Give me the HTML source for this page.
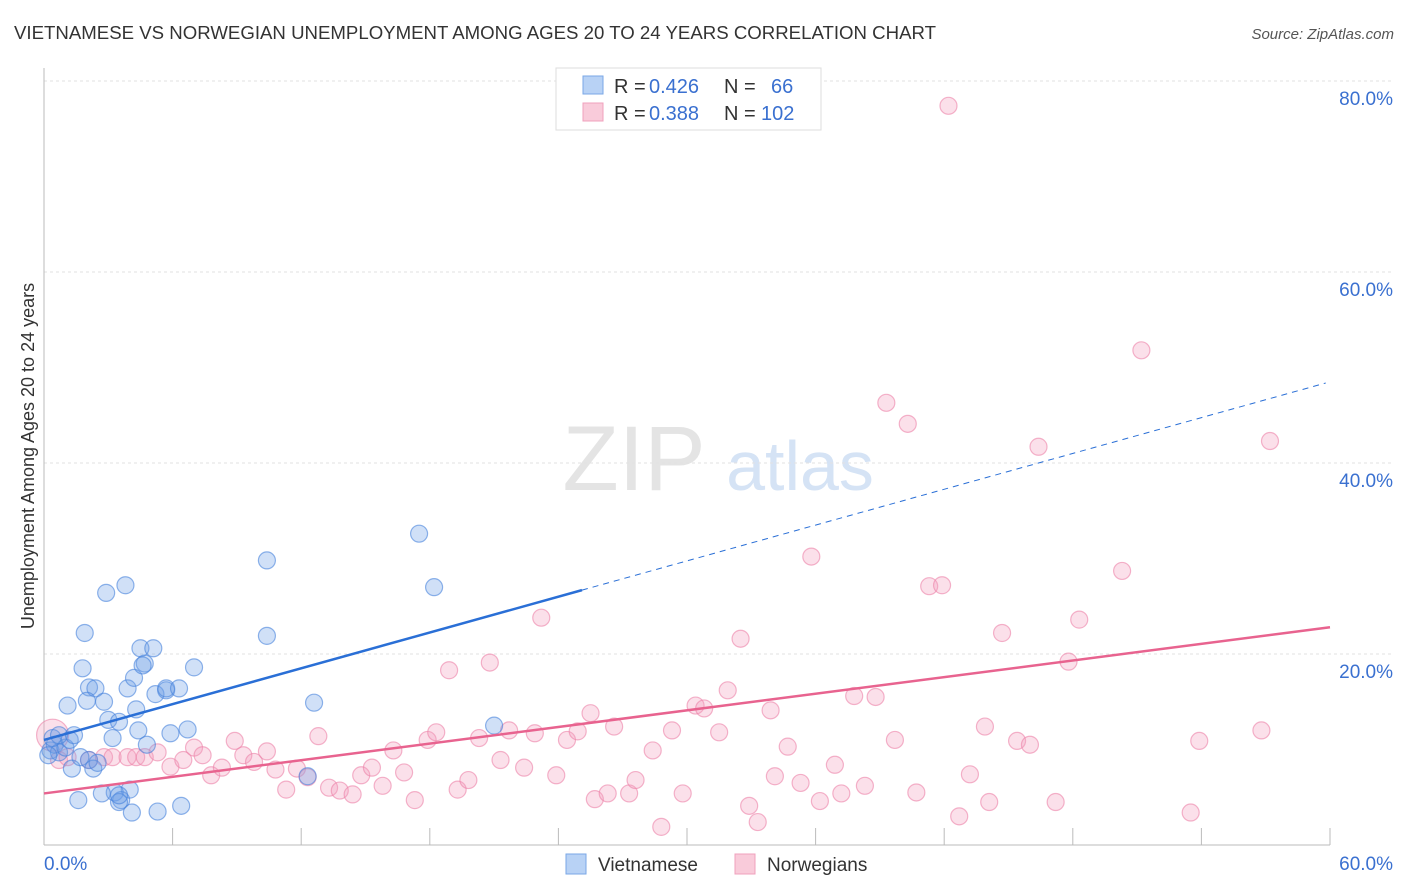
<!DOCTYPE html>
<html><head><meta charset="utf-8"><style>
body{margin:0;background:#fff;font-family:"Liberation Sans",sans-serif;}
#wrap{position:relative;width:1406px;height:892px;overflow:hidden;}
svg text{font-family:"Liberation Sans",sans-serif;}
</style></head><body>
<div id="wrap">
<svg id="svg" width="1406" height="892">
<text x="14" y="39" font-size="18" fill="#333" textLength="922" lengthAdjust="spacingAndGlyphs">VIETNAMESE VS NORWEGIAN UNEMPLOYMENT AMONG AGES 20 TO 24 YEARS CORRELATION CHART</text>
<text x="1394" y="39" font-size="15" fill="#555" font-style="italic" text-anchor="end">Source: ZipAtlas.com</text>
<text x="634" y="490" font-size="92" fill="#e4e4e4" font-family="Liberation Serif" text-anchor="middle">ZIP</text>
<text x="800" y="490" font-size="70" fill="#d5e3f5" text-anchor="middle">atlas</text>
<text transform="translate(34,456) rotate(-90)" font-size="18" fill="#333" text-anchor="middle">Unemployment Among Ages 20 to 24 years</text>
<g id="grid"></g><g id="marks"></g>
<g>
<rect x="556" y="68" width="265" height="62" fill="#fff" stroke="#ddd"/>
<rect x="583" y="76" width="20" height="18" fill="#b8d2f5" stroke="#7aa7e6"/>
<rect x="583" y="103" width="20" height="18" fill="#f9cbda" stroke="#f0a0bc"/>
<text x="614" y="93" font-size="20" fill="#333">R =</text>
<text x="649" y="93" font-size="20" fill="#3a70d0">0.426</text>
<text x="724" y="93" font-size="20" fill="#333">N =</text>
<text x="771" y="93" font-size="20" fill="#3a70d0">66</text>
<text x="614" y="120" font-size="20" fill="#333">R =</text>
<text x="649" y="120" font-size="20" fill="#3a70d0">0.388</text>
<text x="724" y="120" font-size="20" fill="#333">N =</text>
<text x="761" y="120" font-size="20" fill="#3a70d0">102</text>
</g>
<g>
<rect x="566" y="854" width="20" height="20" fill="#b8d2f5" stroke="#7aa7e6"/>
<text x="598" y="871" font-size="19" fill="#333">Vietnamese</text>
<rect x="735" y="854" width="20" height="20" fill="#f9cbda" stroke="#f0a0bc"/>
<text x="767" y="871" font-size="19" fill="#333">Norwegians</text>
</g>
</svg></div>
<script>
const blueX=[0.3,0.5,0.7,1.0,0.4,1.2,0.2,0.7,1.4,1.3,2.1,2.3,1.7,1.6,1.9,1.8,2.1,2.4,1.1,2.0,2.8,3.0,3.2,3.5,3.9,4.2,4.3,4.4,4.5,4.7,4.6,5.1,5.2,5.7,5.7,6.3,7.0,5.9,6.7,4.8,2.9,3.8,10.4,10.4,12.6,17.5,18.2,21.0,12.3,4.0,3.3,3.6,3.5,4.1,5.3,6.4,3.5,2.7,2.5];
const blueY=[9.9,10.5,9.7,10.2,11.2,11.0,9.4,11.5,11.5,8.0,8.9,8.0,9.2,4.7,22.2,18.5,16.5,16.4,14.6,15.1,15.0,13.1,11.2,12.9,16.4,17.5,14.2,12.0,20.6,19.0,18.8,20.6,15.8,16.2,16.4,16.4,18.6,11.7,12.1,10.5,26.4,27.2,29.8,21.9,14.9,32.6,27.0,12.5,7.2,5.8,5.5,4.7,4.5,3.4,3.5,4.1,5.2,5.4,8.6];
const pinkX=[0.4,0.7,1.1,2.1,2.8,3.2,3.9,4.3,4.7,5.3,5.9,6.5,7.0,7.4,7.8,8.3,8.9,9.3,9.8,10.4,10.8,11.3,11.8,12.3,12.8,13.3,13.8,14.4,14.8,15.3,15.8,16.3,16.8,17.3,17.9,18.3,18.9,19.3,19.8,20.3,20.8,21.3,21.7,22.4,22.9,23.2,23.9,24.4,24.9,25.5,25.7,26.3,26.6,27.3,27.6,28.4,28.8,29.3,29.8,30.4,30.8,31.5,31.9,32.5,32.9,33.3,33.9,34.1,34.7,35.3,35.8,36.2,36.9,37.2,37.8,38.3,38.8,39.3,39.7,40.3,40.7,41.3,41.9,42.2,42.7,43.2,43.9,44.1,44.7,45.4,46.0,46.4,47.2,47.8,48.3,50.3,51.2,53.5,53.9,56.8,57.2];
const pinkY=[11.5,8.9,9.2,8.9,9.2,9.2,9.2,9.2,9.2,9.7,8.2,8.9,10.2,9.4,7.3,8.1,10.9,9.4,8.7,9.8,7.9,5.8,8.0,7.1,11.4,6.0,5.7,5.3,7.3,8.1,6.2,9.9,7.6,4.7,11.0,11.8,18.3,5.8,6.8,11.2,19.1,8.9,12.0,8.1,11.7,23.8,7.3,11.0,11.9,13.8,4.8,5.4,12.4,5.4,6.8,9.9,1.9,12.0,5.4,14.6,14.3,11.8,16.2,21.6,4.1,2.4,14.1,7.2,10.3,6.5,30.2,4.6,8.4,5.4,15.6,6.2,15.5,46.3,11.0,44.1,5.5,27.1,27.2,77.4,3.0,7.4,12.4,4.5,22.2,10.9,10.5,41.7,4.5,19.2,23.6,28.7,51.8,3.4,10.9,12.0,42.3];
const yTicks=[20,40,60,80];
const xTickVals=[0,6,12,18,24,30,36,42,48,54,60];
const blueTrend=[11.0,0.625];
const pinkTrend=[5.4,0.29];
const X=v=>44+v/60*1286, Y=v=>845-v/20*191;
const NS='http://www.w3.org/2000/svg';
const grid=document.getElementById('grid'), marks=document.getElementById('marks');
function mk(tag,attrs,parent){const e=document.createElementNS(NS,tag);for(const k in attrs)e.setAttribute(k,attrs[k]);parent.appendChild(e);return e;}
yTicks.forEach(t=>{
 const l=mk('line',{x1:44,x2:1394,y1:Y(t),y2:Y(t),stroke:'#e2e2e2','stroke-dasharray':'3,3'},grid);
 
 
 const tx=mk('text',{x:1393,y:Y(t)+24,'font-size':19,fill:'#3a70d0','text-anchor':'end'},grid);tx.textContent=t.toFixed(1)+'%';
 
 
});
const ax=mk('line',{x1:44,x2:1330,y1:845,y2:845,stroke:'#bbb'},grid);


const ay=mk('line',{x1:44,x2:44,y1:68,y2:845,stroke:'#bbb'},grid);


xTickVals.forEach(t=>{if(t===0)return;const l=mk('line',{x1:X(t),x2:X(t),y1:828,y2:845,stroke:'#bbb'},grid);
 
 });
[[0,'start',44],[60,'end',1393]].forEach(([v,a,px])=>{const tx=mk('text',{x:px,y:870,'font-size':19,fill:'#3a70d0','text-anchor':a},grid);tx.textContent=v.toFixed(1)+'%';
 
 });
pinkX.forEach((x,i)=>{const c=mk('circle',{cx:X(x),cy:Y(pinkY[i]),r:i===0?16:8.5,fill:'rgba(244,160,190,0.32)',stroke:'rgba(236,130,168,0.6)','stroke-width':1.2},marks);
 
 });
blueX.forEach((x,i)=>{const c=mk('circle',{cx:X(x),cy:Y(blueY[i]),r:8.5,fill:'rgba(110,160,230,0.32)',stroke:'rgba(70,130,220,0.6)','stroke-width':1.2},marks);
 
 });
const bl=mk('line',{x1:X(0),y1:Y(blueTrend[0]),x2:X(25.1),y2:Y(blueTrend[0]+blueTrend[1]*25.1),stroke:'#2a6fd6','stroke-width':2.5},marks);


const bd=mk('line',{x1:X(25.1),y1:Y(blueTrend[0]+blueTrend[1]*25.1),x2:X(59.8),y2:Y(blueTrend[0]+blueTrend[1]*59.8),stroke:'#2a6fd6','stroke-width':1,'stroke-dasharray':'6,5'},marks);


const pl=mk('line',{x1:X(0),y1:Y(pinkTrend[0]),x2:X(60),y2:Y(pinkTrend[0]+pinkTrend[1]*60),stroke:'#e8638f','stroke-width':2.5},marks);


</script>
</body></html>
